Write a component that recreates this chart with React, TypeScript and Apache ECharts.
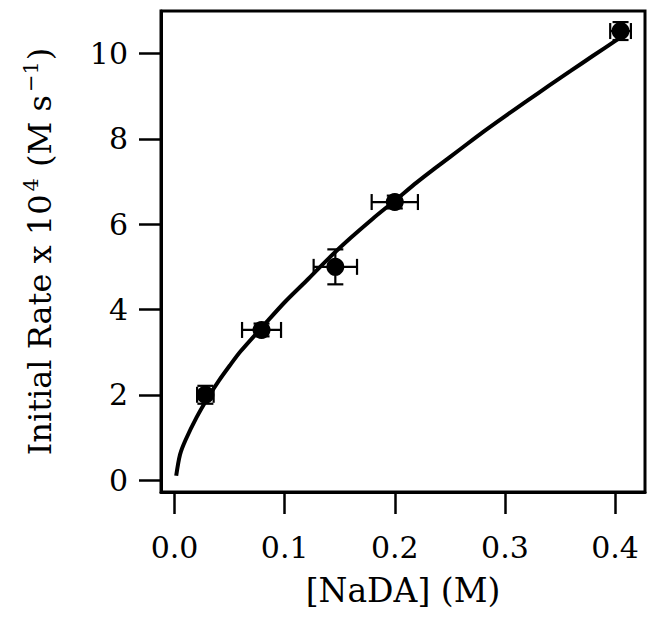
import React, { useEffect, useRef } from "react";
import * as echarts from "echarts";

// Measured data points: [NaDA] (M), initial rate x 1e4 (M/s), and their error bars
const pointX = [0.028, 0.079, 0.146, 0.2, 0.405];
const pointY = [2.0, 3.52, 5.0, 6.52, 10.53];
const pointXErr = [0.0075, 0.0177, 0.0197, 0.021, 0.0094];
const pointYErr = [0.21, 0.15, 0.41, 0.15, 0.21];

// Fitted curve
const fitX = [0.0015, 0.005, 0.01, 0.02, 0.03, 0.04, 0.05, 0.06, 0.08, 0.1, 0.12, 0.14, 0.16, 0.18, 0.2, 0.22, 0.24, 0.26, 0.28, 0.3, 0.32, 0.34, 0.36, 0.38, 0.405];
const fitY = [0.1, 0.6, 0.94, 1.47, 1.92, 2.32, 2.68, 3.02, 3.6, 4.17, 4.68, 5.2, 5.68, 6.13, 6.55, 6.98, 7.38, 7.77, 8.16, 8.53, 8.89, 9.25, 9.6, 9.95, 10.38];

const xTickValues = [0, 0.1, 0.2, 0.3, 0.4];
const xTickLabels = ["0.0", "0.1", "0.2", "0.3", "0.4"];
const yTickValues = [0, 2, 4, 6, 8, 10];
const yTickLabels = ["0", "2", "4", "6", "8", "10"];

const FONT = "DejaVu Serif";

export default function App() {
  const ref = useRef<HTMLDivElement>(null);
  useEffect(() => {
    if (!ref.current) return;
    const chart = echarts.init(ref.current, undefined, { renderer: "svg" });
    const points = pointX.map((x, i) => [x, pointY[i], pointXErr[i], pointYErr[i]]);
    const fit = fitX.map((x, i) => [x, fitY[i]]);
    chart.setOption({
      animation: false,
      backgroundColor: "#fff",
      grid: {
        left: 161,
        right: 11,
        top: 11,
        bottom: 135,
        show: true,
        borderColor: "#000",
        borderWidth: 3,
        backgroundColor: "transparent",
      },
      xAxis: {
        type: "value",
        min: -0.0123,
        max: 0.4272,
        name: "[NaDA] (M)",
        nameLocation: "middle",
        nameGap: 82,
        nameTextStyle: { fontFamily: FONT, fontSize: 33, color: "#000" },
        axisLine: { show: true, onZero: false, lineStyle: { color: "#000", width: 3 } },
        axisTick: {
          show: true,
          inside: false,
          length: 22,
          customValues: xTickValues,
          lineStyle: { color: "#000", width: 2.5 },
        },
        axisLabel: {
          show: true,
          customValues: xTickValues,
          margin: 40,
          fontFamily: FONT,
          fontSize: 30,
          color: "#000",
          formatter: (v: number) => {
            const i = xTickValues.findIndex((t) => Math.abs(t - v) < 1e-9);
            return i >= 0 ? xTickLabels[i] : "";
          },
        },
        splitLine: { show: false },
      },
      yAxis: {
        type: "value",
        min: -0.28,
        max: 11.0,
        name: "{n|Initial Rate x 10}{s|4}{n| (M s}{s|−1}{n|)}",
        nameLocation: "middle",
        nameRotate: 90,
        nameGap: 102,
        nameTextStyle: {
          fontFamily: FONT,
          fontSize: 32,
          color: "#000",
          rich: {
            n: { fontFamily: FONT, fontSize: 32, color: "#000" },
            s: { fontFamily: FONT, fontSize: 21, color: "#000", verticalAlign: "bottom", padding: [0, 1, 18, 3] },
          },
        },
        axisLine: { show: true, onZero: false, lineStyle: { color: "#000", width: 3 } },
        axisTick: {
          show: true,
          inside: false,
          length: 22,
          customValues: yTickValues,
          lineStyle: { color: "#000", width: 2.5 },
        },
        axisLabel: {
          show: true,
          customValues: yTickValues,
          margin: 33,
          fontFamily: FONT,
          fontSize: 30,
          color: "#000",
          formatter: (v: number) => {
            const i = yTickValues.findIndex((t) => Math.abs(t - v) < 1e-9);
            return i >= 0 ? yTickLabels[i] : "";
          },
        },
        splitLine: { show: false },
      },
      series: [
        {
          type: "line",
          data: fit,
          smooth: 0.3,
          showSymbol: false,
          symbol: "none",
          lineStyle: { color: "#000", width: 4 },
          z: 2,
        },
        {
          type: "custom",
          data: points,
          encode: { x: 0, y: 1 },
          z: 3,
          renderItem: (params: any, api: any) => {
            const x = api.value(0);
            const y = api.value(1);
            const xe = api.value(2);
            const ye = api.value(3);
            const l = api.coord([x - xe, y]);
            const r = api.coord([x + xe, y]);
            const t = api.coord([x, y + ye]);
            const b = api.coord([x, y - ye]);
            const cap = 8;
            const st = { stroke: "#000", lineWidth: 2.2 };
            return {
              type: "group",
              children: [
                { type: "line", shape: { x1: l[0], y1: l[1], x2: r[0], y2: r[1] }, style: st },
                { type: "line", shape: { x1: l[0], y1: l[1] - cap, x2: l[0], y2: l[1] + cap }, style: st },
                { type: "line", shape: { x1: r[0], y1: r[1] - cap, x2: r[0], y2: r[1] + cap }, style: st },
                { type: "line", shape: { x1: t[0], y1: t[1], x2: b[0], y2: b[1] }, style: st },
                { type: "line", shape: { x1: t[0] - cap, y1: t[1], x2: t[0] + cap, y2: t[1] }, style: st },
                { type: "line", shape: { x1: b[0] - cap, y1: b[1], x2: b[0] + cap, y2: b[1] }, style: st },
              ],
            };
          },
        },
        {
          type: "scatter",
          data: points.map((p) => [p[0], p[1]]),
          symbol: "circle",
          symbolSize: 18,
          itemStyle: { color: "#000", opacity: 1 },
          z: 4,
        },
      ],
    });
    return () => chart.dispose();
  }, []);
  return <div ref={ref} style={{ width: 656, height: 627, margin: -8 }} />;
}
